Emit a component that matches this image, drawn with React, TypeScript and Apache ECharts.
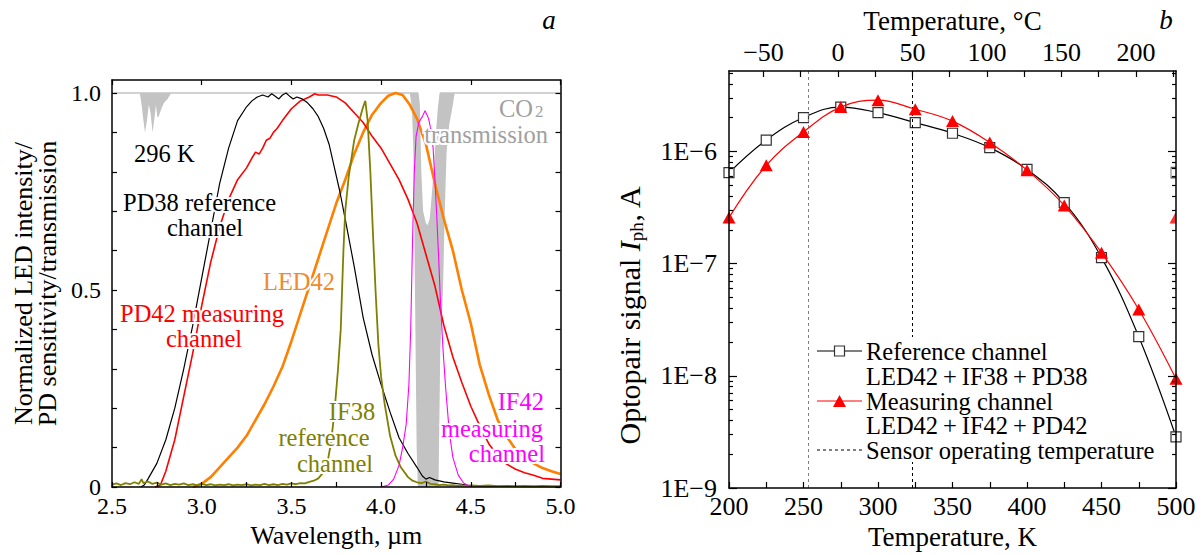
import React, { useEffect, useRef } from 'react';
import * as echarts from 'echarts';

const SERIF = '"Liberation Serif", "Times New Roman", Times, serif';

// ---------------- Panel a: spectra (wavelength, µm -> normalized value) ----------------
const pd38Wl = [2.66, 2.68, 2.70, 2.75, 2.80, 2.85, 2.90, 2.95, 3.00, 3.05, 3.10, 3.15, 3.20, 3.25, 3.28, 3.31, 3.34, 3.37, 3.39, 3.41, 3.43, 3.45, 3.47, 3.49, 3.51, 3.53, 3.56, 3.59, 3.62, 3.65, 3.68, 3.71, 3.74, 3.77, 3.80, 3.85, 3.90, 3.95, 4.00, 4.05, 4.10, 4.15, 4.20, 4.23, 4.25, 4.27, 4.30, 4.35, 4.40, 4.45, 4.50, 4.60, 4.80, 5.00];
const pd38Val = [0.00, 0.005, 0.02, 0.06, 0.12, 0.20, 0.30, 0.41, 0.53, 0.65, 0.77, 0.86, 0.93, 0.965, 0.98, 0.99, 0.995, 0.99, 0.998, 0.992, 0.985, 0.995, 1.0, 0.992, 0.985, 0.99, 0.985, 0.975, 0.96, 0.94, 0.91, 0.87, 0.81, 0.75, 0.68, 0.56, 0.43, 0.335, 0.26, 0.19, 0.125, 0.085, 0.05, 0.028, 0.02, 0.024, 0.018, 0.013, 0.01, 0.007, 0.003, 0.002, 0.001, 0.0];

const pd42Wl = [2.74, 2.77, 2.80, 2.85, 2.90, 2.95, 3.00, 3.05, 3.10, 3.15, 3.20, 3.25, 3.28, 3.30, 3.32, 3.34, 3.36, 3.38, 3.40, 3.42, 3.45, 3.50, 3.55, 3.60, 3.63, 3.65, 3.70, 3.75, 3.80, 3.85, 3.90, 3.95, 4.00, 4.05, 4.10, 4.15, 4.20, 4.25, 4.30, 4.35, 4.40, 4.45, 4.50, 4.55, 4.60, 4.65, 4.70, 4.75, 4.80, 4.85, 4.90, 4.95, 5.00];
const pd42Val = [0.0, 0.005, 0.04, 0.12, 0.23, 0.34, 0.46, 0.57, 0.66, 0.73, 0.78, 0.81, 0.835, 0.85, 0.845, 0.86, 0.88, 0.885, 0.90, 0.91, 0.93, 0.96, 0.98, 0.99, 0.998, 0.995, 0.995, 0.99, 0.975, 0.95, 0.925, 0.89, 0.86, 0.82, 0.78, 0.73, 0.67, 0.59, 0.51, 0.41, 0.33, 0.265, 0.205, 0.155, 0.11, 0.08, 0.058, 0.045, 0.036, 0.03, 0.022, 0.02, 0.018];

const led42Wl = [2.95, 3.00, 3.05, 3.10, 3.15, 3.20, 3.25, 3.30, 3.35, 3.40, 3.45, 3.50, 3.55, 3.60, 3.65, 3.70, 3.75, 3.80, 3.85, 3.90, 3.95, 4.00, 4.04, 4.08, 4.12, 4.16, 4.20, 4.25, 4.30, 4.35, 4.40, 4.45, 4.50, 4.55, 4.60, 4.65, 4.70, 4.75, 4.80, 4.85, 4.90, 4.95, 5.00];
const led42Val = [0.0, 0.008, 0.025, 0.05, 0.075, 0.10, 0.13, 0.17, 0.21, 0.255, 0.305, 0.37, 0.44, 0.51, 0.58, 0.65, 0.72, 0.78, 0.845, 0.90, 0.945, 0.975, 0.993, 1.0, 0.995, 0.97, 0.935, 0.87, 0.77, 0.68, 0.60, 0.50, 0.415, 0.31, 0.235, 0.17, 0.128, 0.095, 0.075, 0.06, 0.048, 0.04, 0.033];

const if38Wl = [2.500, 2.525, 2.550, 2.575, 2.600, 2.625, 2.650, 2.665, 2.675, 2.700, 2.725, 2.750, 2.775, 2.800, 2.825, 2.850, 2.875, 2.900, 2.925, 2.950, 2.975, 3.000, 3.025, 3.050, 3.075, 3.100, 3.125, 3.150, 3.175, 3.200, 3.225, 3.250, 3.275, 3.300, 3.325, 3.350, 3.375, 3.400, 3.425, 3.450, 3.475, 3.500, 3.525, 3.550, 3.575, 3.600, 3.625, 3.650, 3.675, 3.700, 3.720, 3.740, 3.760, 3.775, 3.790, 3.800, 3.820, 3.850, 3.875, 3.900, 3.912, 3.925, 3.940, 3.955, 3.970, 3.985, 4.000, 4.020, 4.050, 4.080, 4.110, 4.150, 4.175, 4.200, 4.225, 4.250, 4.275, 4.300, 4.325, 4.350, 4.375, 4.400, 4.425, 4.450, 4.475, 4.500, 4.550, 4.600, 4.650, 4.700, 4.750, 4.800, 4.850, 4.900, 4.950, 5.000];
const if38Val = [0.006, 0.009, 0.005, 0.010, 0.007, 0.012, 0.008, 0.020, 0.010, 0.014, 0.008, 0.011, 0.006, 0.009, 0.005, 0.008, 0.006, 0.009, 0.005, 0.007, 0.004, 0.008, 0.005, 0.007, 0.004, 0.006, 0.005, 0.007, 0.004, 0.006, 0.005, 0.007, 0.004, 0.006, 0.005, 0.008, 0.005, 0.007, 0.005, 0.008, 0.006, 0.009, 0.007, 0.010, 0.009, 0.013, 0.016, 0.022, 0.035, 0.060, 0.11, 0.19, 0.30, 0.40, 0.60, 0.70, 0.79, 0.88, 0.925, 0.965, 0.98, 0.93, 0.80, 0.64, 0.49, 0.36, 0.28, 0.21, 0.13, 0.08, 0.05, 0.025, 0.016, 0.012, 0.010, 0.014, 0.008, 0.007, 0.005, 0.006, 0.004, 0.005, 0.003, 0.004, 0.003, 0.004, 0.003, 0.004, 0.002, 0.003, 0.002, 0.003, 0.002, 0.003, 0.002, 0.002];

const if42Wl = [4.00, 4.04, 4.07, 4.10, 4.12, 4.14, 4.155, 4.165, 4.175, 4.185, 4.195, 4.21, 4.23, 4.245, 4.265, 4.28, 4.29, 4.30, 4.31, 4.32, 4.33, 4.345, 4.36, 4.38, 4.40, 4.43, 4.46, 4.50];
const if42Val = [0.0, 0.005, 0.02, 0.055, 0.10, 0.16, 0.26, 0.40, 0.62, 0.80, 0.89, 0.925, 0.94, 0.955, 0.935, 0.90, 0.86, 0.78, 0.69, 0.59, 0.48, 0.35, 0.25, 0.14, 0.075, 0.03, 0.01, 0.0];

// CO2 transmission (296 K): lower / upper envelope of the dense absorption lines
const co2Wl = [2.50, 2.655, 2.665, 2.675, 2.684, 2.695, 2.705, 2.715, 2.726, 2.735, 2.745, 2.752, 2.76, 2.775, 2.79, 2.81, 2.83, 4.16, 4.172, 4.18, 4.19, 4.198, 4.205, 4.212, 4.22, 4.23, 4.245, 4.26, 4.275, 4.29, 4.30, 4.31, 4.32, 4.33, 4.345, 4.355, 4.365, 4.38, 4.40, 4.41, 5.00];
const co2Low = [1, 1, 0.97, 0.93, 0.90, 0.93, 0.97, 0.95, 0.90, 0.93, 0.97, 0.94, 0.94, 0.96, 0.975, 0.985, 1, 1, 0.96, 0.85, 0.45, 0.1, 0, 0, 0, 0, 0, 0, 0, 0, 0, 0, 0, 0.35, 0.5, 0.7, 0.85, 0.92, 0.97, 1, 1];
const co2High = [1, 1, 1, 1, 1, 1, 1, 1, 1, 1, 1, 1, 1, 1, 1, 1, 1, 1, 1, 1, 1, 1, 1, 0.97, 0.8, 0.70, 0.67, 0.66, 0.68, 0.76, 0.82, 0.90, 0.96, 1, 1, 1, 1, 1, 1, 1, 1];

const specLabelTicks = [0, 0.5, 1.0];
const specTicks = [0, 0.1, 0.2, 0.3, 0.4, 0.5, 0.6, 0.7, 0.8, 0.9, 1.0];

// ---------------- Panel b: optopair signal vs temperature ----------------
const tempK = [200, 225, 250, 275, 300, 325, 350, 375, 400, 425, 450, 475, 500];
const refSignal = [6.45e-7, 1.26e-6, 2.0e-6, 2.48e-6, 2.21e-6, 1.80e-6, 1.45e-6, 1.08e-6, 6.9e-7, 3.49e-7, 1.13e-7, 2.23e-8, 2.86e-9];
const measSignal = [2.57e-7, 7.5e-7, 1.49e-6, 2.48e-6, 2.86e-6, 2.37e-6, 1.86e-6, 1.2e-6, 6.8e-7, 3.3e-7, 1.25e-7, 3.9e-8, 9.4e-9];
const operatingT = [253, 323];
const celsiusLabels = [-50, 0, 50, 100, 150, 200];
const celsiusTicks = [-50, -25, 0, 25, 50, 75, 100, 125, 150, 175, 200, 225];
const decadeTicks = [1e-9, 1e-8, 1e-7, 1e-6];
const SIG_MIN = 1e-9;
const SIG_MAX = 5.2e-6;

const minorLogTicks = [-9, -8, -7, -6]
  .flatMap((e) => [2, 3, 4, 5, 6, 7, 8, 9].map((m) => m * Math.pow(10, e)))
  .filter((v) => v < SIG_MAX);

const zip = (xs: number[], ys: number[]) => xs.map((x, i) => [x, ys[i]]);

const BLACK = '#000';
const frameLine = { show: true, onZero: false, lineStyle: { color: BLACK, width: 1.5 } };
const tickLine = { color: BLACK, width: 1.2 };
const labelStyleA = { color: BLACK, fontFamily: SERIF, fontSize: 24 };
const nameStyleA = { color: BLACK, fontFamily: SERIF, fontSize: 26 };
const labelStyleB = { color: BLACK, fontFamily: SERIF, fontSize: 26 };
const nameStyleB = { color: BLACK, fontFamily: SERIF, fontSize: 27 };

function txt(text: string, x: number, y: number, fill: string, align: string = 'left', extra: any = {}) {
  return {
    type: 'text',
    x,
    y,
    z: 100,
    silent: true,
    style: {
      text,
      fill,
      fontFamily: SERIF,
      fontSize: 24.5,
      align,
      verticalAlign: 'middle',
      stroke: '#fff',
      lineWidth: 4,
      strokeFirst: true,
      ...extra,
    },
  };
}

function buildOption(): any {
  const specLine = (name: string, wl: number[], val: number[], color: string, width: number) => ({
    type: 'line',
    name,
    xAxisIndex: 0,
    yAxisIndex: 0,
    data: zip(wl, val),
    symbol: 'none',
    showSymbol: false,
    silent: true,
    lineStyle: { color, width },
    z: 3,
  });

  const legendX1 = 817;
  const legendX2 = 862;
  const legendMid = (legendX1 + legendX2) / 2;
  const legendTx = 866;
  const legendFont = { lineWidth: 0, fontSize: 24.5 };

  return {
    animation: false,
    backgroundColor: '#fff',
    textStyle: { fontFamily: SERIF },
    grid: [
      { left: 112, top: 80, width: 448.5, height: 407, outerBoundsMode: 'none' },
      { left: 729, top: 71, width: 447, height: 417, outerBoundsMode: 'none' },
    ],
    xAxis: [
      {
        gridIndex: 0, type: 'value', position: 'bottom', min: 2.5, max: 5, interval: 0.5, z: 10,
        name: 'Wavelength, µm', nameLocation: 'middle', nameGap: 35, nameTextStyle: nameStyleA,
        axisLine: frameLine,
        axisTick: { inside: true, length: 5, lineStyle: tickLine },
        minorTick: { show: true, splitNumber: 2, length: 5, lineStyle: tickLine },
        splitLine: { show: false },
        axisLabel: { ...labelStyleA, margin: 7, formatter: (v: number) => v.toFixed(1) },
      },
      {
        gridIndex: 0, type: 'value', position: 'top', min: 2.5, max: 5, interval: 0.5, z: 10,
        axisLine: frameLine,
        axisTick: { inside: true, length: 5, lineStyle: tickLine },
        splitLine: { show: false },
        axisLabel: { show: false },
      },
      {
        gridIndex: 1, type: 'value', position: 'bottom', min: 200, max: 500, interval: 50, z: 10,
        name: 'Temperature, K', nameLocation: 'middle', nameGap: 34, nameTextStyle: nameStyleB,
        axisLine: frameLine,
        axisTick: { inside: true, length: 6, lineStyle: tickLine },
        minorTick: { show: true, splitNumber: 2, length: 6, lineStyle: tickLine },
        splitLine: { show: false },
        axisLabel: { ...labelStyleB, margin: 5 },
      },
      {
        gridIndex: 1, type: 'value', position: 'top', min: 200, max: 500, z: 10,
        name: 'Temperature, °C', nameLocation: 'middle', nameGap: 36, nameTextStyle: nameStyleB,
        axisLine: frameLine,
        axisTick: { inside: true, length: 6, lineStyle: tickLine, customValues: celsiusTicks.map((c) => c + 273.15) },
        splitLine: { show: false },
        axisLabel: {
          ...labelStyleB, margin: 6,
          customValues: celsiusLabels.map((c) => c + 273.15),
          formatter: (v: number) => {
            const c = Math.round(v - 273.15);
            return c < 0 ? '\u2212' + -c : String(c);
          },
        },
      },
    ],
    yAxis: [
      {
        gridIndex: 0, type: 'value', position: 'left', min: 0, max: 1.033, z: 10,
        name: 'Normalized LED intensity/\nPD sensitivity/transmission', nameLocation: 'middle', nameGap: 53, nameRotate: 90,
        nameTextStyle: { ...nameStyleA, fontSize: 26, lineHeight: 24 },
        axisLine: frameLine,
        axisTick: { inside: true, length: 5, lineStyle: tickLine, customValues: specTicks },
        splitLine: { show: false },
        axisLabel: { ...labelStyleA, margin: 11, customValues: specLabelTicks, formatter: (v: number) => (v === 0 ? '0' : v.toFixed(1)) },
      },
      {
        gridIndex: 0, type: 'value', position: 'right', min: 0, max: 1.033, z: 10,
        axisLine: frameLine,
        axisTick: { inside: true, length: 5, lineStyle: tickLine, customValues: specTicks },
        splitLine: { show: false },
        axisLabel: { show: false },
      },
      {
        gridIndex: 1, type: 'log', logBase: 10, position: 'left', min: SIG_MIN, max: SIG_MAX, z: 10,
        axisLine: frameLine,
        axisTick: { inside: true, length: 8, lineStyle: tickLine, customValues: decadeTicks },
        splitLine: { show: false },
        axisLabel: {
          ...labelStyleB, margin: 12, customValues: decadeTicks,
          formatter: (v: number) => '1E\u2212' + Math.round(-Math.log10(v)),
        },
      },
      {
        gridIndex: 1, type: 'log', logBase: 10, position: 'left', min: SIG_MIN, max: SIG_MAX, z: 10,
        axisLine: { show: false },
        axisTick: { inside: true, length: 4, lineStyle: tickLine, customValues: minorLogTicks },
        splitLine: { show: false },
        axisLabel: { show: false },
      },
      {
        gridIndex: 1, type: 'log', logBase: 10, position: 'right', min: SIG_MIN, max: SIG_MAX, z: 10,
        axisLine: frameLine,
        axisTick: { inside: true, length: 8, lineStyle: tickLine, customValues: decadeTicks },
        splitLine: { show: false },
        axisLabel: { show: false },
      },
      {
        gridIndex: 1, type: 'log', logBase: 10, position: 'right', min: SIG_MIN, max: SIG_MAX, z: 10,
        axisLine: { show: false },
        axisTick: { inside: true, length: 4, lineStyle: tickLine, customValues: minorLogTicks },
        splitLine: { show: false },
        axisLabel: { show: false },
      },
    ],
    series: [
      // CO2 band: gray fill up to upper envelope, white fill up to lower envelope, gray line on top
      {
        type: 'line', xAxisIndex: 0, yAxisIndex: 0, data: zip(co2Wl, co2High), symbol: 'none', silent: true,
        lineStyle: { width: 0, opacity: 0 }, areaStyle: { color: '#c3c3c3', opacity: 1 }, z: 1,
      },
      {
        type: 'line', xAxisIndex: 0, yAxisIndex: 0, data: zip(co2Wl, co2Low), symbol: 'none', silent: true,
        lineStyle: { width: 0, opacity: 0 }, areaStyle: { color: '#ffffff', opacity: 1 }, z: 1,
      },
      {
        type: 'line', xAxisIndex: 0, yAxisIndex: 0, data: zip(co2Wl, co2High), symbol: 'none', silent: true,
        lineStyle: { width: 1.5, color: '#c3c3c3' }, z: 1,
      },
      specLine('LED42', led42Wl, led42Val, '#ff8000', 2.6),
      specLine('PD42', pd42Wl, pd42Val, '#ff0000', 1.6),
      specLine('PD38', pd38Wl, pd38Val, '#000000', 1.2),
      specLine('IF38', if38Wl, if38Val, '#808000', 1.8),
      specLine('IF42', if42Wl, if42Val, '#ff00ff', 1.1),

      // Panel b
      {
        type: 'line', name: 'Reference channel', xAxisIndex: 2, yAxisIndex: 2, data: zip(tempK, refSignal),
        smooth: 0.4, symbol: 'rect', symbolSize: 10, silent: true,
        lineStyle: { color: '#000', width: 1.2 },
        itemStyle: { color: '#fff', borderColor: '#333', borderWidth: 1.2 },
        z: 4,
        markLine: {
          silent: true, symbol: ['none', 'none'], label: { show: false },
          data: operatingT.map((t, i) => ({
            xAxis: t,
            lineStyle: { color: i === 0 ? '#808080' : '#000', type: [3, 3], width: 1 },
          })),
        },
      },
      {
        type: 'line', name: 'Measuring channel', xAxisIndex: 2, yAxisIndex: 2, data: zip(tempK, measSignal),
        smooth: 0.4, symbol: 'triangle', symbolSize: [13, 12], silent: true,
        lineStyle: { color: '#ff0000', width: 1.2 },
        itemStyle: { color: '#ff0000' },
        z: 5,
      },
      // half markers clipped by the right frame (repeat of the 200 K points)
      {
        type: 'scatter', xAxisIndex: 2, yAxisIndex: 2, data: [[tempK[tempK.length - 1], refSignal[0]]],
        symbol: 'path://M5,0 L0,0 L0,10 L5,10', symbolSize: [5, 10], symbolOffset: [-2.5, 0], silent: true,
        itemStyle: { color: '#fff', borderColor: '#333', borderWidth: 1.2 }, z: 4,
      },
      {
        type: 'scatter', xAxisIndex: 2, yAxisIndex: 2, data: [[tempK[tempK.length - 1], measSignal[0]]],
        symbol: 'path://M6,0 L6,12 L0,12 Z', symbolSize: [6.5, 12], symbolOffset: [-3.25, 0], silent: true,
        itemStyle: { color: '#ff0000' }, z: 5,
      },
    ],
    graphic: [
      // panel letters
      txt('a', 549, 20, '#000', 'center', { fontStyle: 'italic', fontSize: 27, lineWidth: 0 }),
      txt('b', 1166, 20, '#000', 'center', { fontStyle: 'italic', fontSize: 27, lineWidth: 0 }),
      // panel a annotations
      txt('296 K', 134, 153, '#000'),
      txt('PD38 reference', 123, 202, '#000'),
      txt('channel', 205, 227, '#000', 'center'),
      txt('LED42', 299, 281, '#f28a2a', 'center'),
      txt('PD42 measuring', 120, 313, '#ff0000'),
      txt('channel', 204, 338, '#ff0000', 'center'),
      txt('IF38', 352, 411, '#808000', 'center'),
      txt('reference', 324, 437, '#808000', 'center'),
      txt('channel', 335, 463, '#808000', 'center'),
      txt('IF42', 544, 401, '#ff00ff', 'right'),
      txt('measuring', 543, 428, '#ff00ff', 'right'),
      txt('channel', 545, 453, '#ff00ff', 'right'),
      txt('CO', 533, 108, '#a0a0a0', 'right'),
      txt('2', 535, 111.5, '#a0a0a0', 'left', { fontSize: 17, lineWidth: 0 }),
      txt('transmission', 548, 134, '#a0a0a0', 'right'),
      // panel b y-axis title
      {
        type: 'text', x: 629, y: 315, rotation: Math.PI / 2, z: 100, silent: true,
        style: {
          text: 'Optopair signal {i|I}{s|ph}, A',
          fill: '#000', fontFamily: SERIF, fontSize: 30, align: 'center', verticalAlign: 'middle',
          rich: {
            i: { fontFamily: SERIF, fontSize: 30, fontStyle: 'italic', fill: '#000' },
            s: { fontFamily: SERIF, fontSize: 19, fill: '#000', padding: [14, 0, 0, 0] },
          },
        },
      },
      // legend
      { type: 'rect', z: 90, silent: true, shape: { x: 812, y: 337, width: 283, height: 125 }, style: { fill: '#fff' } },
      { type: 'line', z: 95, silent: true, shape: { x1: legendX1, y1: 351, x2: legendX2, y2: 351 }, style: { stroke: '#000', lineWidth: 1.2 } },
      { type: 'rect', z: 96, silent: true, shape: { x: legendMid - 5, y: 346, width: 10, height: 10 }, style: { fill: '#fff', stroke: '#333', lineWidth: 1.2 } },
      txt('Reference channel', legendTx, 351, '#000', 'left', legendFont),
      txt('LED42\u2009+\u2009IF38\u2009+\u2009PD38', legendTx, 376, '#000', 'left', legendFont),
      { type: 'line', z: 95, silent: true, shape: { x1: legendX1, y1: 401, x2: legendX2, y2: 401 }, style: { stroke: '#ff0000', lineWidth: 1.2 } },
      {
        type: 'polygon', z: 96, silent: true,
        shape: { points: [[legendMid - 6.5, 407], [legendMid + 6.5, 407], [legendMid, 395]] },
        style: { fill: '#ff0000' },
      },
      txt('Measuring channel', legendTx, 401, '#000', 'left', legendFont),
      txt('LED42\u2009+\u2009IF42\u2009+\u2009PD42', legendTx, 425.5, '#000', 'left', legendFont),
      { type: 'line', z: 95, silent: true, shape: { x1: legendX1, y1: 450, x2: legendX2, y2: 450 }, style: { stroke: '#000', lineWidth: 1, lineDash: [3, 3] } },
      txt('Sensor operating temperature', legendTx, 450, '#000', 'left', legendFont),
    ],
  };
}

export default function App() {
  const ref = useRef<HTMLDivElement>(null);
  useEffect(() => {
    document.body.style.margin = '0';
    const chart = echarts.init(ref.current as HTMLDivElement, null, { renderer: 'svg' });
    chart.setOption(buildOption());
    return () => {
      chart.dispose();
    };
  }, []);
  return <div ref={ref} style={{ width: 1204, height: 555 }} />;
}
